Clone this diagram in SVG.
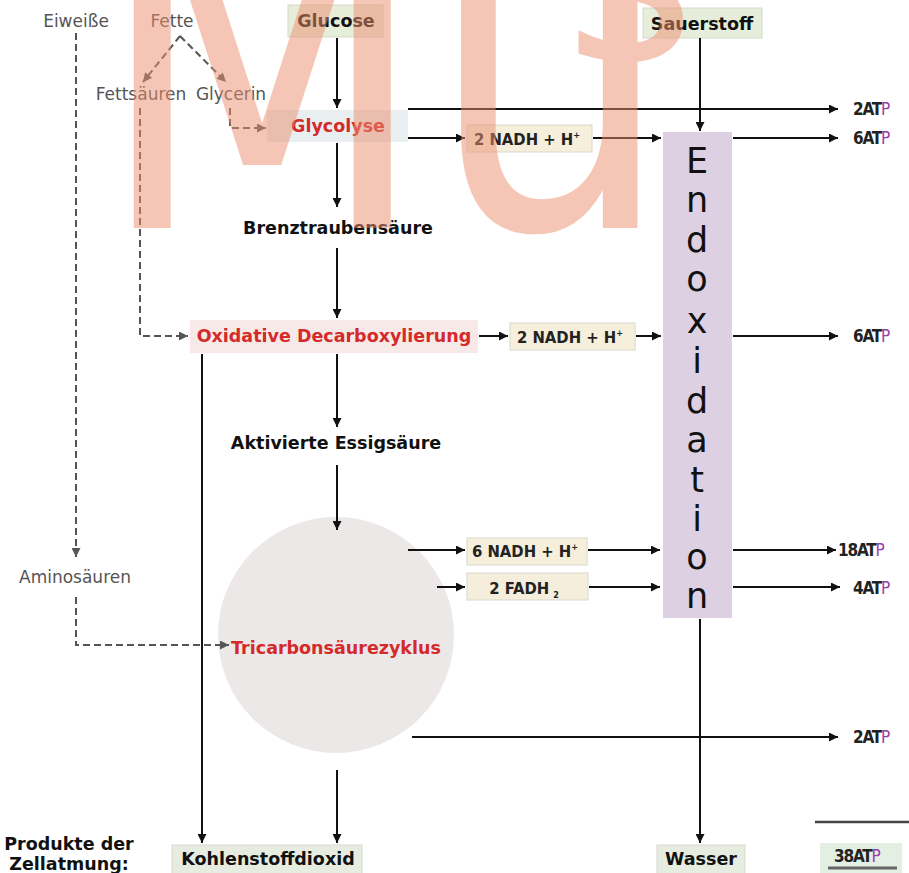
<svg xmlns="http://www.w3.org/2000/svg" width="909" height="873" viewBox="0 0 909 873">
<style>
text{font-family:"DejaVu Sans","Liberation Sans",sans-serif;}
.b{font-weight:bold;font-size:17.5px;fill:#111;text-anchor:middle;}
.r{font-weight:bold;font-size:17.5px;fill:#d42a2a;text-anchor:middle;}
.g{font-size:17px;fill:#555;text-anchor:middle;}
.n{font-family:"DejaVu Sans Condensed","DejaVu Sans",sans-serif;font-weight:bold;font-size:16.5px;fill:#222;text-anchor:middle;}
.atp{font-family:"DejaVu Sans Condensed","DejaVu Sans",sans-serif;font-weight:bold;font-size:17px;fill:#222;letter-spacing:-1.2px;}
.p{fill:#9a3ca6;font-weight:normal;}
.ex{font-size:35px;fill:#111;text-anchor:middle;}
.c{fill:none;stroke:#111;stroke-width:2;marker-end:url(#a);}
.d{fill:none;stroke:#555;stroke-width:2;stroke-dasharray:7,4;marker-end:url(#ad);}
.bx{stroke:#d8d8cc;stroke-width:1;}
</style>
<defs>
<marker id="a" viewBox="0 0 10 10" refX="10" refY="5" markerWidth="10" markerHeight="9" markerUnits="userSpaceOnUse" orient="auto"><path d="M0,0 L10,5 L0,10 z" fill="#111"/></marker>
<marker id="ad" viewBox="0 0 10 10" refX="10" refY="5" markerWidth="10" markerHeight="9" markerUnits="userSpaceOnUse" orient="auto"><path d="M0,0 L10,5 L0,10 z" fill="#555"/></marker>
</defs>
<rect width="909" height="873" fill="#fff"/>

<g id="eiweisse"><text class="g" x="76" y="27">Eiweiße</text></g>
<g id="fette"><text class="g" x="172" y="27">Fette</text></g>
<g id="glucose"><rect class="bx" x="288" y="5" width="95" height="32" fill="#e6edd8"/><text class="b" x="336" y="27">Glucose</text></g>
<g id="sauerstoff"><rect class="bx" x="643" y="8" width="119" height="30" fill="#e6eedb"/><text class="b" x="702" y="30">Sauerstoff</text></g>
<g id="fettsaeuren"><text class="g" x="141" y="100">Fettsäuren</text></g>
<g id="glycerin"><text class="g" x="231" y="100">Glycerin</text></g>
<g id="glycolyse"><rect x="267" y="110" width="141" height="32" fill="#e9eef0"/><text class="r" x="338" y="132">Glycolyse</text></g>
<g id="nadh1"><rect class="bx" x="467" y="125" width="125" height="27" fill="#f5efdc"/><text class="n" x="527" y="145">2 NADH + H<tspan dy="-7" font-size="9">+</tspan></text></g>
<g id="atp1"><text class="atp" x="853" y="115">2AT<tspan class="p">P</tspan></text></g>
<g id="atp2"><text class="atp" x="853" y="144">6AT<tspan class="p">P</tspan></text></g>
<g id="brenz"><text class="b" x="338" y="234">Brenztraubensäure</text></g>
<g id="oxdec"><rect x="190" y="320" width="288" height="33" fill="#f7e9e8"/><text class="r" x="334" y="342">Oxidative Decarboxylierung</text></g>
<g id="nadh2"><rect class="bx" x="510" y="323" width="125" height="27" fill="#f5efdc"/><text class="n" x="570" y="343">2 NADH + H<tspan dy="-7" font-size="9">+</tspan></text></g>
<g id="atp3"><text class="atp" x="853" y="342">6AT<tspan class="p">P</tspan></text></g>
<g id="aktiv"><text class="b" x="336" y="449">Aktivierte Essigsäure</text></g>
<g id="endox"><rect x="663" y="132" width="69" height="486" fill="#dcd0e2"/>
<text class="ex"><tspan x="697" y="173">E</tspan><tspan x="697" y="212">n</tspan><tspan x="697" y="252">d</tspan><tspan x="697" y="291">o</tspan><tspan x="697" y="333">x</tspan><tspan x="697" y="373">i</tspan><tspan x="697" y="413">d</tspan><tspan x="697" y="452">a</tspan><tspan x="697" y="492">t</tspan><tspan x="697" y="531">i</tspan><tspan x="697" y="569">o</tspan><tspan x="697" y="608">n</tspan></text></g>
<g id="tca"><circle cx="336" cy="635" r="118" fill="#ece8e8"/><text class="r" x="336" y="654">Tricarbonsäurezyklus</text></g>
<g id="nadh3"><rect class="bx" x="467" y="538" width="120" height="27" fill="#f5efdc"/><text class="n" x="525" y="557">6 NADH + H<tspan dy="-7" font-size="9">+</tspan></text></g>
<g id="fadh"><rect class="bx" x="467" y="573" width="121" height="27" fill="#f6eedd"/><text class="n" x="524" y="594">2 FADH<tspan dx="4" dy="4" font-size="9">2</tspan></text></g>
<g id="atp4"><text class="atp" x="838" y="556">18AT<tspan class="p">P</tspan></text></g>
<g id="atp5"><text class="atp" x="853" y="594">4AT<tspan class="p">P</tspan></text></g>
<g id="amino"><text class="g" x="75" y="583">Aminosäuren</text></g>
<g id="atp6"><text class="atp" x="853" y="743">2AT<tspan class="p">P</tspan></text></g>
<g id="produkte"><text class="b" x="69" y="850">Produkte der</text><text class="b" x="69" y="870">Zellatmung:</text></g>
<g id="co2"><rect class="bx" x="172" y="845" width="190" height="30" fill="#e6ede0"/><text class="b" x="268" y="865">Kohlenstoffdioxid</text></g>
<g id="wasser"><rect class="bx" x="657" y="845" width="88" height="30" fill="#e6ede0"/><text class="b" x="701" y="865">Wasser</text></g>
<g id="summe"><path d="M815,822 H909" stroke="#444" stroke-width="2.5"/><rect x="820" y="843" width="82" height="30" fill="#e4efe4"/><text class="atp" x="834" y="862">38AT<tspan class="p">P</tspan></text><path d="M828,868 H897" stroke="#666" stroke-width="3"/></g>

<g id="connectors">
<path class="c" d="M337,38 V108"/>
<path class="c" d="M700,38 V131"/>
<path class="c" d="M408,109 H838"/>
<path class="c" d="M408,138 H465"/>
<path class="c" d="M593,138 H661"/>
<path class="c" d="M733,138 H838"/>
<path class="c" d="M337,143 V207"/>
<path class="c" d="M337,248 V318"/>
<path class="c" d="M479,336 H508"/>
<path class="c" d="M636,336 H661"/>
<path class="c" d="M733,336 H838"/>
<path class="c" d="M337,354 V427"/>
<path class="c" d="M337,465 V530"/>
<path class="c" d="M202,354 V843"/>
<path class="c" d="M408,550 H465"/>
<path class="c" d="M588,550 H660"/>
<path class="c" d="M733,550 H836"/>
<path class="c" d="M437,587 H465"/>
<path class="c" d="M589,587 H660"/>
<path class="c" d="M733,587 H840"/>
<path class="c" d="M412,737 H838"/>
<path class="c" d="M337,770 V843"/>
<path class="c" d="M700,619 V843"/>
<path class="d" d="M76,33 V557"/>
<path class="d" d="M180,36 L143,82"/>
<path class="d" d="M180,36 L226,82"/>
<path class="d" d="M140,108 V336 H188"/>
<path class="d" d="M230,108 V128 H266"/>
<path class="d" d="M76,597 V645 H229"/>
</g>

<g id="watermark" fill="#ec8f70" opacity="0.5">
<text transform="translate(96,228) scale(1.07,1.25)" style="font-size:360px;font-family:'DejaVu Sans',sans-serif">Mu</text>
<text x="565" y="58" style="font-size:250px;font-family:'DejaVu Sans',sans-serif">s</text>
</g>
</svg>
